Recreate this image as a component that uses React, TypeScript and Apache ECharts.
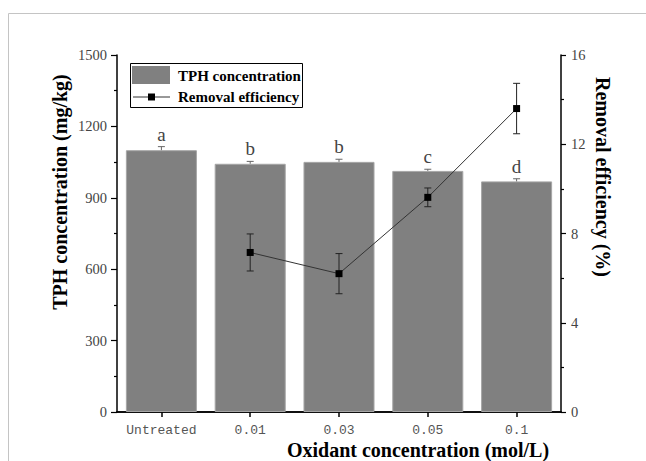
import React, { useEffect, useRef } from "react";
import * as echarts from "echarts";

const categories = ["Untreated", "0.01", "0.03", "0.05", "0.1"];
const tphValues = [1100, 1043, 1051, 1013, 969];
const tphErrors = [15, 10, 11, 7, 11];
const letters = ["a", "b", "b", "c", "d"];
const removalValues: (number | string)[] = ["-", 7.15, 6.2, 9.62, 13.6];
const removalErrors = [0, 0.83, 0.9, 0.42, 1.13];
const leftTicks = { min: 0, max: 1500, interval: 300 };
const rightTicks = { min: 0, max: 16, interval: 4 };

const SERIF = "'Liberation Serif', 'Times New Roman', serif";
const MONO = "'Liberation Mono', 'DejaVu Sans Mono', monospace";

export default function App() {
  const ref = useRef<HTMLDivElement>(null);
  useEffect(() => {
    if (!ref.current) return;
    const chart = echarts.init(ref.current, undefined, { renderer: "svg" });
    const barErrData = tphValues.map((v, i) => [i, v, tphErrors[i], letters[i]]);
    const lineErrData = removalValues
      .map((v, i) => (typeof v === "number" ? [i, v, removalErrors[i]] : null))
      .filter((d) => d !== null);

    chart.setOption({
      animation: false,
      backgroundColor: "#fff",
      grid: { left: 117, right: 85, top: 55, bottom: 49, containLabel: false },
      xAxis: [
        {
          type: "category",
          data: categories,
          position: "bottom",
          axisLine: { show: true, lineStyle: { color: "#000", width: 1.5 } },
          axisTick: { show: true, alignWithLabel: true, length: 5, lineStyle: { color: "#000", width: 1.5 } },
          axisLabel: { interval: 0, fontFamily: MONO, fontSize: 13, color: "#555", margin: 12 },
          splitLine: { show: false },
        },
        {
          type: "category",
          data: categories,
          position: "top",
          axisLine: { show: true, lineStyle: { color: "#000", width: 1.5 } },
          axisTick: { show: false },
          axisLabel: { show: false },
          splitLine: { show: false },
        },
      ],
      yAxis: [
        {
          type: "value",
          position: "left",
          min: leftTicks.min,
          max: leftTicks.max,
          interval: leftTicks.interval,
          axisLine: { show: true, lineStyle: { color: "#000", width: 1.5 } },
          axisTick: { show: true, length: 6, lineStyle: { color: "#000", width: 1.2 } },
          minorTick: { show: true, splitNumber: 2, length: 3, lineStyle: { color: "#000", width: 1.2 } },
          axisLabel: { fontFamily: SERIF, fontSize: 14.5, color: "#444", margin: 10, formatter: (v: number) => String(v) },
          splitLine: { show: false },
        },
        {
          type: "value",
          position: "right",
          min: rightTicks.min,
          max: rightTicks.max,
          interval: rightTicks.interval,
          axisLine: { show: true, lineStyle: { color: "#000", width: 1.5 } },
          axisTick: { show: true, length: 5, lineStyle: { color: "#000", width: 1.2 } },
          minorTick: { show: true, splitNumber: 2, length: 3, lineStyle: { color: "#000", width: 1.2 } },
          axisLabel: { fontFamily: SERIF, fontSize: 14.5, color: "#444", margin: 10, formatter: (v: number) => String(v) },
          splitLine: { show: false },
        },
      ],
      series: [
        {
          name: "TPH concentration",
          type: "bar",
          data: tphValues,
          barWidth: "80%",
          itemStyle: { color: "#808080", borderColor: "#a6a6a6", borderWidth: 1 },
          z: 2,
        },
        {
          type: "custom",
          data: barErrData,
          z: 3,
          renderItem: (params: any, api: any) => {
            const i = api.value(0);
            const v = api.value(1);
            const e = api.value(2);
            const top = api.coord([i, v + e]);
            const base = api.coord([i, v]);
            const letter = letters[params.dataIndex];
            const cap = 3.5;
            return {
              type: "group",
              children: [
                { type: "line", shape: { x1: top[0], y1: top[1], x2: base[0], y2: base[1] }, style: { stroke: "#666", lineWidth: 1 } },
                { type: "line", shape: { x1: top[0] - cap, y1: top[1], x2: top[0] + cap, y2: top[1] }, style: { stroke: "#666", lineWidth: 1 } },
                {
                  type: "text",
                  x: top[0],
                  y: top[1] - 12.5,
                  style: { text: letter, fontFamily: SERIF, fontSize: 19, fill: "#444", align: "center", verticalAlign: "middle" },
                },
              ],
            };
          },
        },
        {
          type: "custom",
          yAxisIndex: 1,
          data: lineErrData,
          z: 4,
          renderItem: (params: any, api: any) => {
            const i = api.value(0);
            const v = api.value(1);
            const e = api.value(2);
            const top = api.coord([i, v + e]);
            const bot = api.coord([i, v - e]);
            const cap = 3.5;
            const st = { stroke: "#222", lineWidth: 1 };
            return {
              type: "group",
              children: [
                { type: "line", shape: { x1: top[0], y1: top[1], x2: bot[0], y2: bot[1] }, style: st },
                { type: "line", shape: { x1: top[0] - cap, y1: top[1], x2: top[0] + cap, y2: top[1] }, style: st },
                { type: "line", shape: { x1: bot[0] - cap, y1: bot[1], x2: bot[0] + cap, y2: bot[1] }, style: st },
              ],
            };
          },
        },
        {
          name: "Removal efficiency",
          type: "line",
          yAxisIndex: 1,
          data: removalValues,
          symbol: "rect",
          symbolSize: 7,
          itemStyle: { color: "#000" },
          lineStyle: { color: "#333", width: 1 },
          z: 5,
        },
      ],
      graphic: [
        { type: "rect", shape: { x: 8.5, y: 13.5, width: 700, height: 500 }, style: { fill: "none", stroke: "#c4c4c4", lineWidth: 1 }, z: -1 },
        { type: "rect", shape: { x: 130.5, y: 63.5, width: 172, height: 44 }, style: { fill: "#fff", stroke: "#000", lineWidth: 1 }, z: 10 },
        { type: "rect", shape: { x: 132, y: 66, width: 38, height: 18 }, style: { fill: "#808080" }, z: 11 },
        { type: "line", shape: { x1: 133, y1: 97, x2: 170, y2: 97 }, style: { stroke: "#333", lineWidth: 1 }, z: 11 },
        { type: "rect", shape: { x: 148, y: 93.5, width: 7, height: 7 }, style: { fill: "#000" }, z: 12 },
        { type: "text", x: 178, y: 76, style: { text: "TPH concentration", fontFamily: SERIF, fontWeight: "bold", fontSize: 15, fill: "#000", align: "left", verticalAlign: "middle" }, z: 12 },
        { type: "text", x: 178, y: 97, style: { text: "Removal efficiency", fontFamily: SERIF, fontWeight: "bold", fontSize: 15, fill: "#000", align: "left", verticalAlign: "middle" }, z: 12 },
        { type: "text", x: 60, y: 192, rotation: Math.PI / 2, style: { text: "TPH concentration (mg/kg)", fontFamily: SERIF, fontWeight: "bold", fontSize: 20, fill: "#000", align: "center", verticalAlign: "middle" } },
        { type: "text", x: 603, y: 177, rotation: -Math.PI / 2, style: { text: "Removal efficiency (%)", fontFamily: SERIF, fontWeight: "bold", fontSize: 20, fill: "#000", align: "center", verticalAlign: "middle" } },
        { type: "text", x: 418, y: 450, style: { text: "Oxidant concentration (mol/L)", fontFamily: SERIF, fontWeight: "bold", fontSize: 20, fill: "#000", align: "center", verticalAlign: "middle" } },
      ],
    });
    return () => chart.dispose();
  }, []);
  return <div ref={ref} style={{ position: "absolute", left: 0, top: 0, width: 646, height: 461 }} />;
}
